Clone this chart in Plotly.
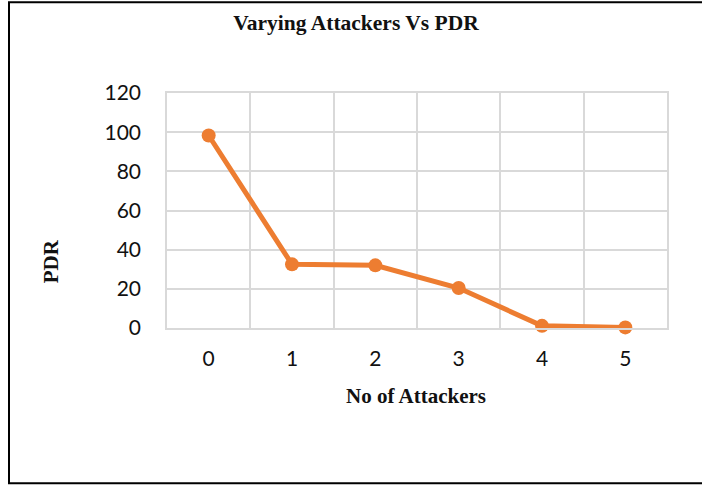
import plotly.graph_objects as go

# Number of attackers vs packet delivery ratio
attackers = ["0", "1", "2", "3", "4", "5"]
pdr = [98.3, 32.5, 32.0, 20.4, 1.1, 0.3]
y_ticks = [0, 20, 40, 60, 80, 100, 120]

W, H = 702, 485
L, R, T, B = 167, 35, 92.7, 157.3
pw, ph = W - L - R, H - T - B

fig = go.Figure(
    go.Scatter(
        x=attackers,
        y=pdr,
        mode="lines+markers",
        line=dict(color="#ED7D31", width=5),
        marker=dict(color="#ED7D31", size=14),
        cliponaxis=False,
        showlegend=False,
    )
)

serif = "Liberation Serif, Times New Roman, serif"
sans = "Lato, sans-serif"
grid = "#D9D9D9"
ink = "#111111"

fig.update_layout(
    width=W,
    height=H,
    margin=dict(l=L, r=R, t=T, b=B),
    paper_bgcolor="white",
    plot_bgcolor="white",
    title=dict(
        text="<b>Varying Attackers Vs PDR</b>",
        font=dict(family=serif, size=21.5, color=ink),
        x=356 / W,
        xanchor="center",
        y=1 - 22 / H,
        yanchor="middle",
    ),
    xaxis=dict(
        type="category",
        range=[-0.5, 5.5],
        tickson="boundaries",
        showgrid=True,
        gridcolor=grid,
        gridwidth=1.5,
        ticks="",
        ticklabelstandoff=11,
        tickfont=dict(family=sans, size=21, color=ink),
        showline=True,
        linecolor=grid,
        linewidth=1.5,
        mirror=True,
        zeroline=False,
    ),
    yaxis=dict(
        range=[0, 120],
        tickvals=y_ticks,
        showgrid=True,
        gridcolor=grid,
        gridwidth=1.5,
        ticks="",
        ticklabelstandoff=20,
        tickfont=dict(family=sans, size=21, color=ink),
        showline=True,
        linecolor=grid,
        linewidth=1.5,
        mirror=True,
        zeroline=False,
    ),
    annotations=[
        dict(
            text="<b>PDR</b>",
            textangle=-90,
            xref="paper",
            yref="paper",
            x=(51 - L) / pw,
            y=(T + ph - 261) / ph,
            xanchor="center",
            yanchor="middle",
            showarrow=False,
            font=dict(family=serif, size=21, color=ink),
        ),
        dict(
            text="<b>No of Attackers</b>",
            xref="paper",
            yref="paper",
            x=(416 - L) / pw,
            y=(T + ph - 396) / ph,
            xanchor="center",
            yanchor="middle",
            showarrow=False,
            font=dict(family=serif, size=21, color=ink),
        ),
    ],
    shapes=[
        dict(
            type="rect",
            xref="paper",
            yref="paper",
            x0=(9 - L) / pw,
            x1=(W + 20 - L) / pw,
            y0=(T + ph - 483) / ph,
            y1=(T + ph - 2) / ph,
            line=dict(color="#000000", width=2),
            fillcolor="rgba(0,0,0,0)",
            layer="below",
        )
    ],
)

fig.write_html("out.html")
